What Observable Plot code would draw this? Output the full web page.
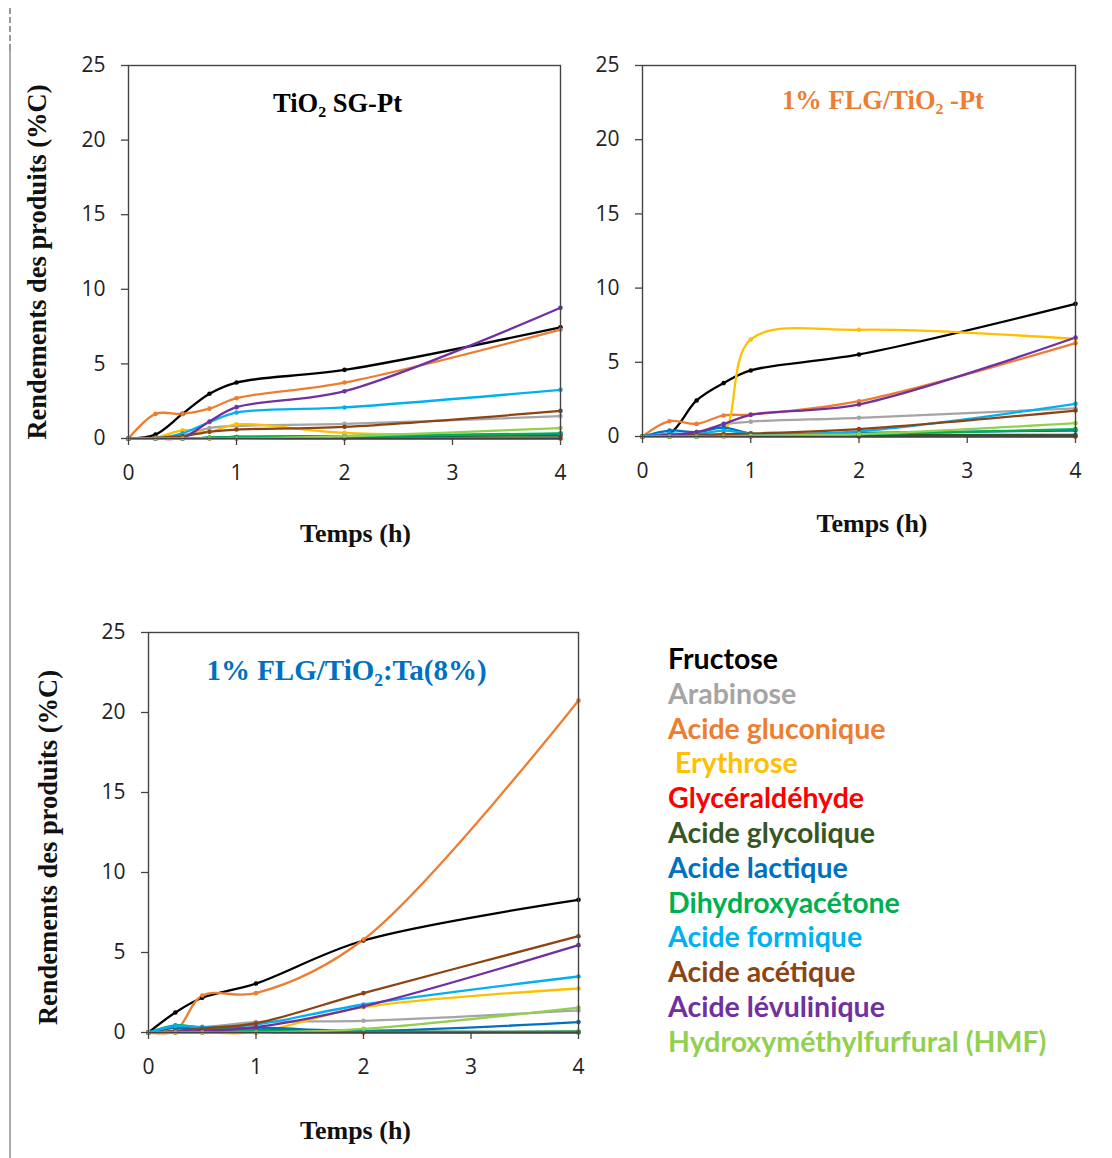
<!DOCTYPE html>
<html>
<head>
<meta charset="utf-8">
<script src="https://cdn.jsdelivr.net/npm/d3@7"></script>
<script src="https://cdn.jsdelivr.net/npm/@observablehq/plot@0.6"></script>
<style>
  html, body { margin: 0; padding: 0; background: #fff; }
  #root { position: relative; width: 1112px; height: 1158px; overflow: hidden; }
  .panel { position: absolute; }
  #deco-dash { position: absolute; left: 9px; top: 8px; height: 42px; border-left: 2px dashed #999; }
  #deco-line { position: absolute; left: 9px; top: 50px; height: 1108px; border-left: 2px solid #aaa; }
  #legend { position: absolute; left: 668px; top: 641px; font-family: Lato, "Open Sans", sans-serif; font-weight: 700; font-size: 28.5px; line-height: 34.8px; white-space: pre; }
</style>
</head>
<body>
<div id="root">
  <div id="deco-dash"></div>
  <div id="deco-line"></div>
  <div id="legend"></div>
</div>
<script>
// ---- categories ----
const products = ["Fructose", "Arabinose", "Acide gluconique", " Erythrose", "Glycéraldéhyde", "Acide glycolique",
  "Acide lactique", "Dihydroxyacétone", "Acide formique", "Acide acétique", "Acide lévulinique", "Hydroxyméthylfurfural (HMF)"];
const productColors = ["#000000", "#A5A5A5", "#ED7D31", "#FFC000", "#FF0000", "#375623",
  "#0070C0", "#00B050", "#00B0F0", "#8B4513", "#7030A0", "#92D050"];

const xTicks = [0, 1, 2, 3, 4];
const yTicks = [0, 5, 10, 15, 20, 25];

// ---- panel 1 : TiO2 SG-Pt ----
const times1 = [0, 0.25, 0.5, 0.75, 1, 2, 4];
const yields1 = [
  [0, 0.27, 1.65, 3.0, 3.75, 4.6, 7.45],     // Fructose
  [0, 0.02, 0.2, 0.7, 0.85, 0.98, 1.5],      // Arabinose
  [0, 1.65, 1.65, 2.0, 2.7, 3.75, 7.3],      // Acide gluconique
  [0, 0.05, 0.55, 0.45, 0.95, 0.38, 0.25],   // Erythrose
  [0, 0, 0, 0, 0, 0, 0],                     // Glycéraldéhyde
  [0, 0, 0, 0.05, 0.1, 0.15, 0.2],           // Acide glycolique
  [0, 0, 0, 0.05, 0.1, 0.15, 0.3],           // Acide lactique
  [0, 0, 0, 0.05, 0.1, 0.15, 0.35],          // Dihydroxyacétone
  [0, 0, 0.35, 1.1, 1.74, 2.08, 3.26],       // Acide formique
  [0, 0.05, 0.15, 0.45, 0.6, 0.78, 1.85],    // Acide acétique
  [0, 0, 0.05, 1.14, 2.1, 3.17, 8.76],       // Acide lévulinique
  [0, 0, 0, 0, 0, 0.15, 0.7]                 // HMF
];

// ---- panel 2 : 1% FLG/TiO2 -Pt ----
const times2 = [0, 0.25, 0.5, 0.75, 1, 2, 4];
const yields2 = [
  [0, 0.2, 2.43, 3.6, 4.45, 5.53, 8.94],
  [0, 0.1, 0.2, 0.8, 1.0, 1.26, 1.9],
  [0, 1.03, 0.85, 1.42, 1.48, 2.38, 6.29],
  [0, 0, 0.02, 0.3, 6.54, 7.19, 6.58],
  [0, 0, 0, 0, 0, 0, 0],
  [0, 0, 0, 0.05, 0.05, 0.1, 0.1],
  [0, 0.4, 0.3, 0.6, 0.2, 0.25, 0.4],
  [0, 0, 0, 0.05, 0.1, 0.15, 0.5],
  [0, 0.2, 0.15, 0.4, 0.2, 0.35, 2.2],
  [0, 0, 0.1, 0.15, 0.2, 0.5, 1.75],
  [0, 0.1, 0.3, 0.85, 1.46, 2.16, 6.67],
  [0, 0, 0, 0, 0.05, 0.15, 0.9]
];

// ---- panel 3 : 1% FLG/TiO2:Ta(8%) ----
const times3 = [0, 0.25, 0.5, 1, 2, 4];
const yields3 = [
  [0, 1.25, 2.17, 3.06, 5.75, 8.29],
  [0, 0.1, 0.3, 0.65, 0.73, 1.38],
  [0, 0.1, 2.31, 2.46, 5.81, 20.75],
  [0, 0, 0, 0.02, 1.58, 2.75],
  [0, 0, 0, 0, 0, 0],
  [0, 0.3, 0.2, 0.2, 0.05, 0.05],
  [0, 0.3, 0.2, 0.3, 0.1, 0.65],
  [0, 0.45, 0.3, 0.15, 0.05, 0.05],
  [0, 0.4, 0.35, 0.5, 1.75, 3.5],
  [0, 0.1, 0.25, 0.58, 2.46, 6.02],
  [0, 0.05, 0.1, 0.33, 1.63, 5.46],
  [0, 0, 0, 0, 0.23, 1.56]
];

const panelTitles = ["TiO₂ SG-Pt", "1% FLG/TiO₂ -Pt", "1% FLG/TiO₂:Ta(8%)"];
const titleColors = ["#000000", "#ED7D31", "#0070C0"];
const xLabel = "Temps (h)";
const yLabel = "Rendements des produits (%C)";

const serif = "'Liberation Serif', 'Times New Roman', serif";
const sans = "'Open Sans', 'Liberation Sans', sans-serif";

function makePanel(o) {
  const data = [];
  products.forEach((p, i) => o.times.forEach((t, j) => data.push({product: p, t, v: o.yields[i][j]})));
  const marks = [
    Plot.line(data, {x: "t", y: "v", z: "product", stroke: "product", curve: "catmull-rom", strokeWidth: 2.3}),
    Plot.dot(data, {x: "t", y: "v", fill: "product", r: 2.3}),
    Plot.frame({stroke: "#444", strokeWidth: 1.4}),
    Plot.axisX({ticks: xTicks, tickFormat: d => String(d), tickSize: 7, tickPadding: 20, fontSize: 21, fontFamily: sans, label: null, stroke: "#444", color: "#222", strokeWidth: 1.3}),
    Plot.axisY({ticks: yTicks, tickFormat: d => String(d), tickSize: 7, tickPadding: 16, fontSize: 21, fontFamily: sans, label: null, stroke: "#444", color: "#222", strokeWidth: 1.3}),
    Plot.text([o.title], {frameAnchor: "top", lineAnchor: "middle", textAnchor: "middle", dx: o.titleDx, dy: o.titleDy, fill: o.titleColor, fontFamily: serif, fontWeight: "bold", fontSize: o.titleSize}),
    Plot.text([xLabel], {frameAnchor: "bottom", lineAnchor: "middle", textAnchor: "middle", dx: o.xlDx, dy: o.xlDy, fill: "#111", fontFamily: serif, fontWeight: "bold", fontSize: 26})
  ];
  if (o.yTitle) {
    marks.push(Plot.text([yLabel], {frameAnchor: "left", rotate: -90, textAnchor: "middle", lineAnchor: "middle", dx: o.ylDx, dy: o.ylDy, fill: "#111", fontFamily: serif, fontWeight: "bold", fontSize: 26.5}));
  }
  const svg = Plot.plot({
    width: o.width, height: o.height,
    marginLeft: o.ml, marginRight: o.mr, marginTop: o.mt, marginBottom: o.mb,
    x: {domain: [0, 4]},
    y: {domain: [0, 25]},
    color: {domain: products, range: productColors},
    marks
  });
  svg.classList.add("panel");
  svg.style.left = o.left + "px";
  svg.style.top = o.top + "px";
  svg.style.maxWidth = "none";
  svg.style.background = "transparent";
  svg.style.overflow = "visible";
  document.getElementById("root").appendChild(svg);
}

makePanel({times: times1, yields: yields1, title: panelTitles[0], titleColor: titleColors[0], titleSize: 26.5,
  titleDx: -7, titleDy: 38, xlDx: 11, xlDy: 95, yTitle: true, ylDx: -91, ylDy: 10,
  left: 0, top: 0, width: 590, height: 560, ml: 128, mr: 30, mt: 65, mb: 122});
makePanel({times: times2, yields: yields2, title: panelTitles[1], titleColor: titleColors[1], titleSize: 26.5,
  titleDx: 24, titleDy: 35, xlDx: 13, xlDy: 87, yTitle: false,
  left: 590, top: 0, width: 522, height: 560, ml: 52, mr: 37, mt: 65, mb: 124});
makePanel({times: times3, yields: yields3, title: panelTitles[2], titleColor: titleColors[2], titleSize: 29,
  titleDx: -17, titleDy: 38, xlDx: -8, xlDy: 98, yTitle: true, ylDx: -100, ylDy: 15,
  left: 0, top: 560, width: 600, height: 598, ml: 148, mr: 22, mt: 72, mb: 126});

// legend
const legend = document.getElementById("legend");
products.forEach((p, i) => {
  const d = document.createElement("div");
  d.textContent = p;
  d.style.color = productColors[i];
  legend.appendChild(d);
});
</script>
</body>
</html>
